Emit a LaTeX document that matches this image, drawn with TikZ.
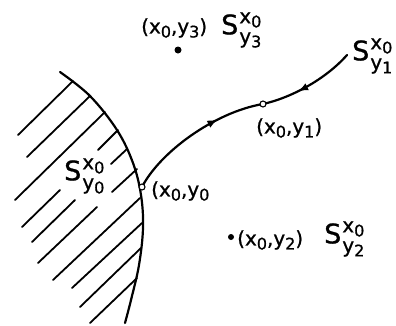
\documentclass[tikz,border=0pt]{standalone}
\usepackage{fontspec}
\setmainfont[BoldFont={DejaVu Sans}, BoldFeatures={FakeBold=0.9}]{DejaVu Sans}
\usetikzlibrary{arrows.meta,decorations.markings}
\newcommand\mysub[1]{\raisebox{-4pt}{\fontsize{16}{16}\selectfont #1}}
\newcommand\Slab[1]{{\fontsize{27}{27}\selectfont S}\kern1pt\rlap{\raisebox{11pt}{\fontsize{20}{20}\selectfont x\mysub{0}}}\raisebox{-9pt}{\fontsize{20}{20}\selectfont y\mysub{#1}}}
\newcommand\ptlab[1]{{\fontsize{20}{22}\selectfont #1}}
\tikzset{
  bound/.style={line width=2.2pt, line cap=round},
  hatch/.style={line width=1.8pt, line cap=round},
  curve/.style={line width=2.2pt, line cap=round},
  arrowmark/.style={postaction={decorate}, decoration={markings, mark=at position #1 with {\arrow{Latex[length=10pt,width=8pt]}}}},
  lab/.style={inner sep=0pt, anchor=west, font=\bfseries},
  dotfill/.style={circle, fill=black, inner sep=0pt, minimum size=7pt},
  dotopen/.style={circle, draw=black, fill=white, line width=1.1pt, inner sep=0pt, minimum size=6pt},
}
\begin{document}
\begin{tikzpicture}[x=1pt,y=-1pt]
\useasboundingbox (0,0) rectangle (396,325);
% boundary of the region
\draw[bound] plot[smooth, tension=0.6] coordinates {(60,72) (90,96) (117,130) (133,163) (141,195) (143,228) (139,265) (131,300) (125,323)};
% hatching
\draw[hatch] (18,135) -- (73,81);
\draw[hatch] (27,157) -- (90,96);
\draw[hatch] (15,200) -- (105,112);
\draw[hatch] (22,227) -- (60,190);
\draw[hatch] (98,150) -- (118,130);
\draw[hatch] (32,242) -- (75,200);
\draw[hatch] (111,164) -- (127,149);
\draw[hatch] (38,263) -- (97,207);
\draw[hatch] (112,192) -- (137,169);
\draw[hatch] (53,280) -- (140,198);
\draw[hatch] (72,288) -- (142,223);
\draw[hatch] (80,307) -- (141,248);
\draw[hatch] (90,323) -- (137,278);
% points
\coordinate (c0) at (142,187);
\coordinate (c1) at (263,104);
\coordinate (ce) at (347,55);
% curve with arrows
\draw[curve, arrowmark=0.68] (c0) .. controls (160,152) and (215,112) .. (c1);
\draw[curve, arrowmark=0.62] (ce) .. controls (325,80) and (290,98) .. (c1);
\node[dotopen] (p0) at (c0) {};
\node[dotopen] (p1) at (c1) {};
\node[dotfill] (p3) at (178,50) {};
\node[dotfill, minimum size=6pt] (p2) at (231,237) {};
% labels
\node[lab] (l3) at (141,28) {\ptlab{(x\mysub{0},y\mysub{3})}};
\node[lab] (s3) at (221,30) {\Slab{3}};
\node[lab] (s1) at (352,56) {\Slab{1}};
\node[lab] (l1) at (256,128) {\ptlab{(x\mysub{0},y\mysub{1})}};
\node[lab] (s0) at (64,176) {\Slab{0}};
\node[lab] (l0) at (151,191) {\ptlab{(x\mysub{0},y\mysub{0}}};
\node[lab] (l2) at (237,240) {\ptlab{(x\mysub{0},y\mysub{2})}};
\node[lab] (s2) at (324,239) {\Slab{2}};
\end{tikzpicture}
\end{document}
